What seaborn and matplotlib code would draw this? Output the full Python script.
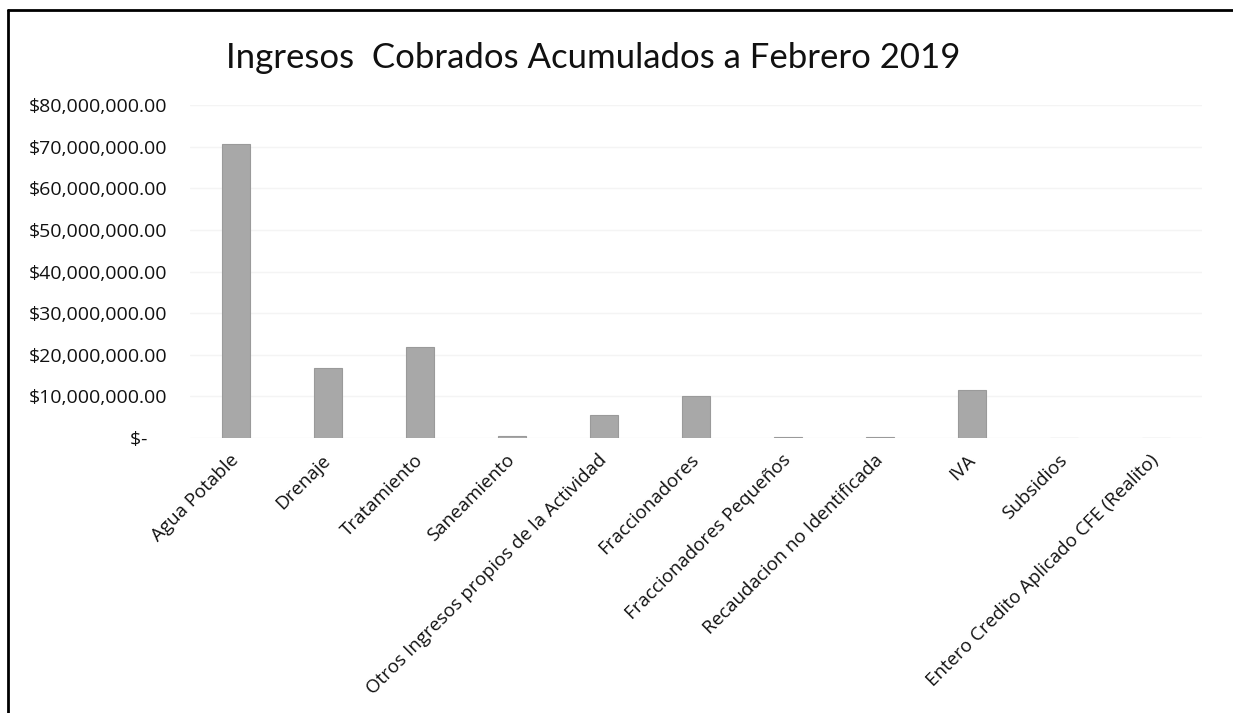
import matplotlib
matplotlib.use("Agg")
import matplotlib.pyplot as plt
import matplotlib.transforms as mtransforms
from matplotlib.lines import Line2D
import seaborn as sns
import pandas as pd

categories = [
    "Agua Potable", "Drenaje", "Tratamiento", "Saneamiento",
    "Otros Ingresos propios de la Actividad", "Fraccionadores",
    "Fraccionadores Pequeños", "Recaudacion no Identificada", "IVA",
    "Subsidios", "Entero Credito Aplicado CFE (Realito)",
]
values = [70700000, 16800000, 21900000, 500000, 5500000, 10100000,
          300000, 300000, 11500000, 0, 0]
yticks = [0, 10e6, 20e6, 30e6, 40e6, 50e6, 60e6, 70e6, 80e6]
title = "Ingresos  Cobrados Acumulados a Febrero 2019"

sns.set_theme(style="white")
plt.rcParams["font.family"] = ["Open Sans", "DejaVu Sans"]

df = pd.DataFrame({"cat": categories, "val": values})

fig = plt.figure(figsize=(12.33, 7.13), dpi=100)
ax = fig.add_axes([0.154, 0.3857, 0.821, 0.467])
sns.barplot(data=df, x="cat", y="val", ax=ax, color="#a8a8a8",
            width=0.3, edgecolor="#9a9a9a", linewidth=0.8, saturation=1)
ax.set_xlim(-0.5, len(categories) - 0.5)
ax.set_ylim(0, 80e6)
ax.set_yticks(yticks)
ax.set_yticklabels(["$-    "] + [f"${v:,.2f}" for v in yticks[1:]],
                   fontsize=14, color="#111111")
ax.set_xlabel("")
ax.set_ylabel("")
ax.tick_params(axis="both", length=0)
ax.tick_params(axis="y", pad=16)
for s in ax.spines.values():
    s.set_visible(False)
ax.yaxis.grid(True, color="#f4f4f4", linewidth=1)
ax.set_axisbelow(True)

offset = mtransforms.ScaledTranslation(0.13, 0.0, fig.dpi_scale_trans)
for lab in ax.get_xticklabels():
    lab.set_rotation(45)
    lab.set_ha("right")
    lab.set_va("center")
    lab.set_rotation_mode("anchor")
    lab.set_fontsize(13.5)
    lab.set_color("#111111")
    lab.set_transform(lab.get_transform() + offset)
ax.tick_params(axis="x", pad=14)

fig.text(0.481, 0.918, title, ha="center", va="center", fontsize=25,
         color="#111111", family=["Lato", "DejaVu Sans"])

# frame of the scanned chart area
fig.add_artist(Line2D([0.0065, 1.0], [0.986, 0.986], transform=fig.transFigure,
                      color="black", linewidth=2))
fig.add_artist(Line2D([0.0065, 0.0065], [0.0, 0.986], transform=fig.transFigure,
                      color="black", linewidth=2))

fig.savefig("out.png", dpi=100)
